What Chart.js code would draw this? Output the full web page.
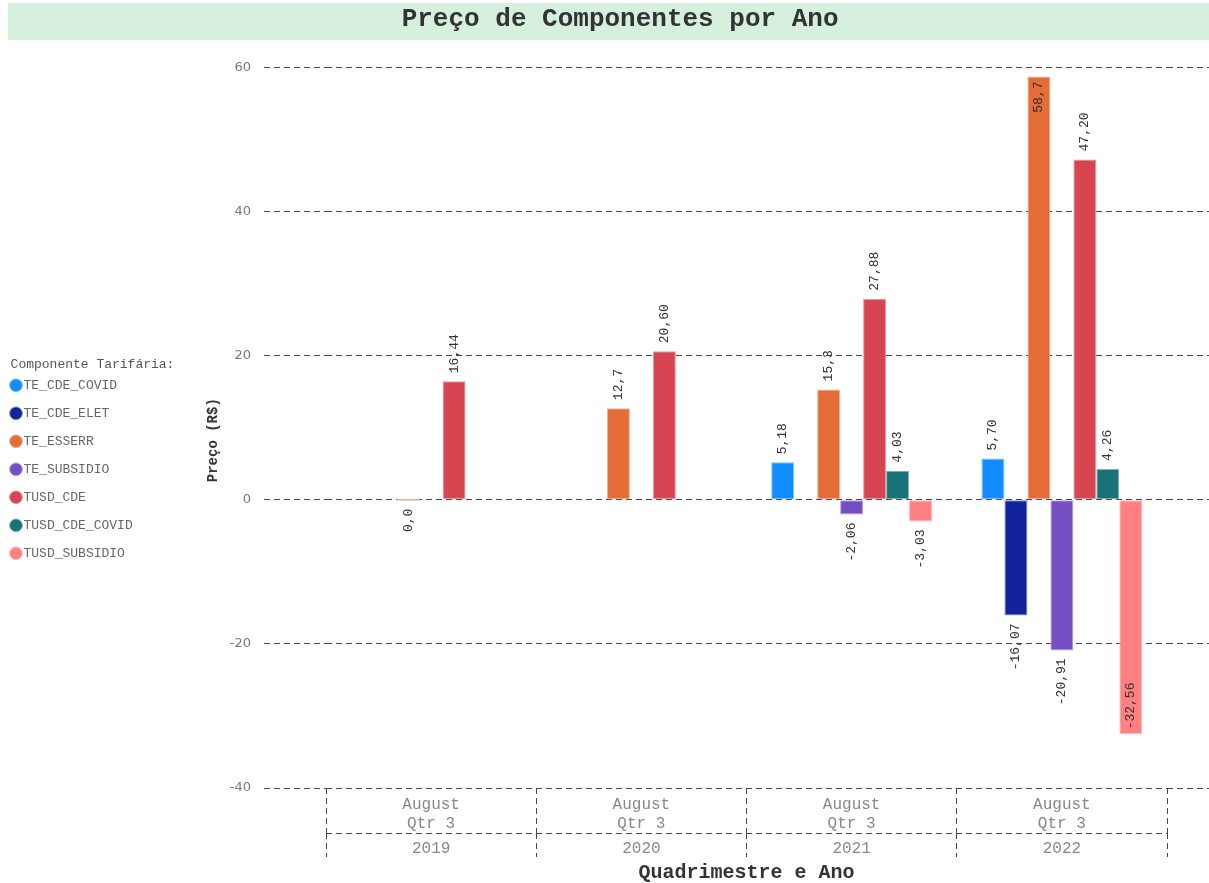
<!DOCTYPE html>
<html>
<head>
<meta charset="utf-8">
<title>Preço de Componentes por Ano</title>
<script src="https://cdn.jsdelivr.net/npm/chart.js@4.4.1/dist/chart.umd.min.js"></script>
<style>
  html, body { margin: 0; padding: 0; background: #ffffff; }
  #wrap { width: 1209px; height: 883px; position: relative; }
</style>
</head>
<body>
<div id="wrap"><canvas id="chart"></canvas></div>
<script>
// Categories: quarter label (first row) and year (second row)
const periods = [['August', 'Qtr 3'], ['August', 'Qtr 3'], ['August', 'Qtr 3'], ['August', 'Qtr 3']];
const years = ['2019', '2020', '2021', '2022'];

// Price per tariff component (R$)
const teCdeCovid    = [null, null, 5.18, 5.70];
const teCdeElet     = [null, null, null, -16.07];
const teEsserr      = [0.0, 12.7, 15.3, 58.7];
const teSubsidio    = [null, null, -2.06, -20.91];
const tusdCde       = [16.44, 20.60, 27.88, 47.20];
const tusdCdeCovid  = [null, null, 4.03, 4.26];
const tusdSubsidio  = [null, null, -3.03, -32.56];

// Value-axis ticks
const yTicks = [-40, -20, 0, 20, 40, 60];

const MONO = '"Liberation Mono", "Courier New", monospace';
const GRID = '#484848';
const DASH = [6, 4];

function tint(hex, amt) {
  const n = parseInt(hex.slice(1), 16);
  const r = (n >> 16) & 255, g = (n >> 8) & 255, b = n & 255;
  const m = c => Math.round(c + (255 - c) * amt);
  return `rgb(${m(r)}, ${m(g)}, ${m(b)})`;
}

function series(label, data, color, decimals) {
  return {
    label, data, decimals,
    backgroundColor: color,
    borderColor: tint(color, 0.45),
    borderWidth: 1,
    borderSkipped: false
  };
}

const datasets = [
  series('TE_CDE_COVID',   teCdeCovid,   '#118DFF', 2),
  series('TE_CDE_ELET',    teCdeElet,    '#12239E', 2),
  series('TE_ESSERR',      teEsserr,     '#E66C37', 1),
  series('TE_SUBSIDIO',    teSubsidio,   '#744EC2', 2),
  series('TUSD_CDE',       tusdCde,      '#D64550', 2),
  series('TUSD_CDE_COVID', tusdCdeCovid, '#197278', 2),
  series('TUSD_SUBSIDIO',  tusdSubsidio, '#FF8080', 2)
];

// Light band behind the chart title
const titleBand = {
  id: 'titleBand',
  beforeDraw(chart) {
    const t = chart.titleBlock;
    if (!t) return;
    const ctx = chart.ctx;
    ctx.save();
    ctx.fillStyle = '#D5F1DE';
    ctx.fillRect(t.left + 8, t.top + 3, t.width - 8, 37);
    ctx.restore();
  }
};

// Give the legend room for its full title (it clips to its own box)
const legendRoom = {
  id: 'legendRoom',
  afterLayout(chart) {
    const l = chart.legend;
    if (!l) return;
    l.width = 185;
    l.right = l.left + 185;
  }
};

// Dashed separator between the quarter row and the year row
const rowSeparator = {
  id: 'rowSeparator',
  afterDraw(chart) {
    const s = chart.scales.x2;
    const ctx = chart.ctx;
    ctx.save();
    ctx.strokeStyle = GRID;
    ctx.lineWidth = 1;
    ctx.setLineDash(DASH);
    ctx.beginPath();
    ctx.moveTo(s.left, Math.round(s.top) + 0.5);
    ctx.lineTo(s.right, Math.round(s.top) + 0.5);
    ctx.stroke();
    ctx.restore();
  }
};

// Rotated value labels on each bar
const valueLabels = {
  id: 'valueLabels',
  afterDatasetsDraw(chart) {
    const {ctx, chartArea} = chart;
    ctx.save();
    ctx.font = '13px ' + MONO;
    ctx.fillStyle = '#333333';
    ctx.textBaseline = 'middle';
    const GAP = 8, GAP_IN = 5;
    chart.data.datasets.forEach((ds, di) => {
      const meta = chart.getDatasetMeta(di);
      if (meta.hidden) return;
      meta.data.forEach((bar, i) => {
        const v = ds.data[i];
        if (v === null || v === undefined) return;
        const text = v.toFixed(ds.decimals).replace('.', ',');
        const w = ctx.measureText(text).width;
        const p = bar.getProps(['x', 'y', 'base'], true);
        const top = Math.min(p.y, p.base);
        const bottom = Math.max(p.y, p.base);
        ctx.save();
        if (v > 0) {
          if (top - GAP - w >= chartArea.top) {
            ctx.translate(p.x, top - GAP);
            ctx.rotate(-Math.PI / 2);
            ctx.textAlign = 'left';
          } else {
            ctx.translate(p.x, top + GAP_IN);
            ctx.rotate(-Math.PI / 2);
            ctx.textAlign = 'right';
          }
        } else {
          if (bottom + GAP + w <= chartArea.bottom) {
            ctx.translate(p.x, bottom + GAP);
            ctx.rotate(-Math.PI / 2);
            ctx.textAlign = 'right';
          } else {
            ctx.translate(p.x, bottom - GAP_IN);
            ctx.rotate(-Math.PI / 2);
            ctx.textAlign = 'left';
          }
        }
        ctx.fillText(text, 0, 0);
        ctx.restore();
      });
    });
    ctx.restore();
  }
};

new Chart(document.getElementById('chart'), {
  type: 'bar',
  data: { labels: periods, datasets },
  plugins: [titleBand, legendRoom, rowSeparator, valueLabels],
  options: {
    responsive: true,
    maintainAspectRatio: false,
    animation: false,
    layout: { padding: 0 },
    datasets: {
      bar: { categoryPercentage: 0.765, barPercentage: 1.0, minBarLength: 2 }
    },
    plugins: {
      tooltip: { enabled: false },
      title: {
        display: true,
        text: '  Preço de Componentes por Ano',
        color: '#333333',
        font: { family: MONO, size: 26, weight: 'bold', lineHeight: 1.2 },
        padding: { top: 4, bottom: 32 }
      },
      legend: {
        position: 'left',
        align: 'center',
        title: {
          display: true,
          text: 'Componente Tarifária:',
          position: 'center',
          color: '#555555',
          font: { family: MONO, size: 13 },
          padding: { top: 50, bottom: -10 }
        },
        labels: {
          usePointStyle: true,
          pointStyle: 'circle',
          boxWidth: 2,
          boxHeight: 9,
          padding: 15,
          color: '#666666',
          font: { family: MONO, size: 13 }
        }
      }
    },
    scales: {
      x: {
        type: 'category',
        position: 'bottom',
        offset: true,
        grid: {
          drawOnChartArea: false, drawTicks: true, offset: true,
          tickLength: 45, color: GRID, tickBorderDash: DASH, lineWidth: 1
        },
        border: { display: false },
        ticks: {
          padding: -37, color: '#888888', maxRotation: 0, autoSkip: false,
          font: { family: MONO, size: 16, lineHeight: 1.15 }
        },
        afterFit(s) { s.height = 45; }
      },
      x2: {
        type: 'category',
        labels: years,
        position: 'bottom',
        offset: true,
        grid: {
          drawOnChartArea: false, drawTicks: true, offset: true,
          tickLength: 24, color: GRID, tickBorderDash: DASH, lineWidth: 1
        },
        border: { display: false },
        ticks: {
          padding: -17, color: '#888888', maxRotation: 0, autoSkip: false,
          font: { family: MONO, size: 16, lineHeight: 1.15 }
        },
        title: {
          display: true,
          text: 'Quadrimestre e Ano',
          color: '#333333',
          font: { family: MONO, size: 20, weight: 'bold', lineHeight: 1.2 },
          padding: { top: 0, bottom: -2 }
        },
        afterFit(s) { s.height = 50; }
      },
      y: {
        position: 'left',
        min: -40,
        max: 60,
        afterBuildTicks(s) { s.ticks = yTicks.map(v => ({ value: v })); },
        ticks: {
          padding: 13, color: '#777777',
          font: { family: '"DejaVu Sans", sans-serif', size: 13 }
        },
        grid: {
          color: GRID, lineWidth: 1, tickLength: 62,
          tickBorderDash: DASH
        },
        border: { display: false, dash: DASH },
        title: {
          display: true,
          text: 'Preço (R$)   ',
          color: '#333333',
          font: { family: MONO, size: 14, weight: 'bold', lineHeight: 1.2 },
          padding: { top: 62, bottom: 0 }
        },
        afterFit(s) {
          const lw = s.chart.legend ? s.chart.legend.width : 0;
          s.width = 326 - lw;
        }
      },
      y2: {
        position: 'right',
        min: -40,
        max: 60,
        afterBuildTicks(s) { s.ticks = yTicks.map(v => ({ value: v })); },
        ticks: { display: false },
        grid: {
          drawOnChartArea: false, color: GRID, lineWidth: 1,
          tickLength: 42, tickBorderDash: DASH
        },
        border: { display: false },
        afterFit(s) { s.width = 42; }
      }
    }
  }
});
</script>
</body>
</html>
